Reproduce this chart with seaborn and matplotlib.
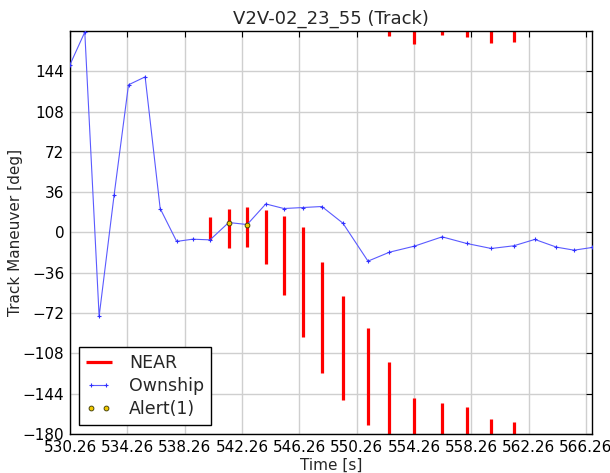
import numpy as np
import pandas as pd
import matplotlib
matplotlib.use("Agg")
import matplotlib.pyplot as plt
import seaborn as sns

# ownship track (time [s], track maneuver [deg])
own_time = [530.26, 531.29, 532.29, 533.34, 534.34, 535.50, 536.55, 537.70,
            538.81, 540.03, 541.33, 542.62, 543.92, 545.18, 546.53, 547.83,
            549.30, 551.05, 552.55, 554.29, 556.22, 557.93, 559.65, 561.22,
            562.69, 564.20, 565.43, 566.68]
own_track = [150.0, 179.0, -74.9, 33.9, 131.9, 139.0, 21.4, -8.0,
             -6.0, -6.6, 8.9, 7.1, 25.5, 21.4, 22.3, 23.2,
             8.3, -25.6, -17.6, -12.2, -3.9, -9.8, -14.3, -11.9,
             -6.2, -13.1, -15.8, -13.4]

# NEAR bands (lo < -180 means the band wraps past -180 to +180)
near_time = [540.03, 541.33, 542.62, 543.92, 545.18, 546.53, 547.83, 549.30,
             551.05, 552.55, 554.29, 556.22, 557.93, 559.65, 561.22]
near_lo = [-6.6, -14.0, -12.8, -28.5, -55.6, -93.6, -125.4, -149.7,
           -171.7, -184.8, -191.3, -183.9, -185.3, -190.7, -190.1]
near_hi = [13.4, 20.8, 23.2, 20.5, 14.3, 4.5, -26.7, -56.8,
           -85.6, -115.9, -147.7, -152.1, -156.3, -166.7, -169.1]

# alert level 1 points
alert_time = [541.33, 542.62]
alert_track = [8.9, 7.1]

xticks = [530.26 + 4 * i for i in range(10)]
yticks = list(range(-180, 180, 36))

sns.set_style("whitegrid")
plt.rcParams.update({
    "font.family": ["DejaVu Sans"],
    "axes.edgecolor": "black",
    "axes.linewidth": 1.0,
    "grid.color": "#cfcfcf",
    "grid.linewidth": 1.0,
    "xtick.direction": "in",
    "ytick.direction": "in",
    "xtick.top": True,
    "ytick.right": True,
    "xtick.major.size": 4,
    "ytick.major.size": 4,
    "xtick.major.width": 0.8,
    "ytick.major.width": 0.8,
    "xtick.color": "black",
    "ytick.color": "black",
})

own = pd.DataFrame({"Time": own_time, "Track": own_track})

fig = plt.figure(figsize=(6.10, 4.73), dpi=100)
ax = fig.add_axes([0.1148, 0.0825, 0.8557, 0.852])

lo = np.array(near_lo)
hi = np.array(near_hi)
ax.vlines(near_time, lo, hi, colors="red", lw=2.3, label="NEAR", zorder=2)
ax.vlines(near_time, lo + 360, hi + 360, colors="red", lw=2.3, zorder=2)

sns.lineplot(data=own, x="Time", y="Track", sort=False, ax=ax,
             color="#5a5aff", lw=0.8, marker="+", markersize=3.5,
             markeredgewidth=0.8, markeredgecolor="#3030ff",
             label="Ownship", zorder=3)
ax.plot(alert_time, alert_track, ls="none", marker="o", markersize=3.5,
        markerfacecolor="#f0c800", markeredgecolor="#333300",
        markeredgewidth=0.6, label="Alert(1)", zorder=4)

ax.set_xlim(530.26, 566.68)
ax.set_ylim(-180, 180)
ax.set_xticks(xticks)
ax.set_xticklabels([f"{v:.2f}" for v in xticks])
ax.set_yticks(yticks)
ax.tick_params(labelsize=11, pad=4)
for s in ax.spines.values():
    s.set_visible(True)

ax.set_title("V2V-02_23_55 (Track)", fontsize=13, pad=5)
ax.set_xlabel("Time [s]", fontsize=11, labelpad=2)
ax.set_ylabel("Track Maneuver [deg]", fontsize=11, labelpad=0)

leg = ax.legend(loc="lower left", fontsize=12.5, numpoints=2, fancybox=False,
                framealpha=1, edgecolor="black", handlelength=1.5,
                handletextpad=1.0, labelspacing=0.3, borderpad=0.4)
leg.get_frame().set_linewidth(1.0)

fig.savefig("out.png", dpi=100)
